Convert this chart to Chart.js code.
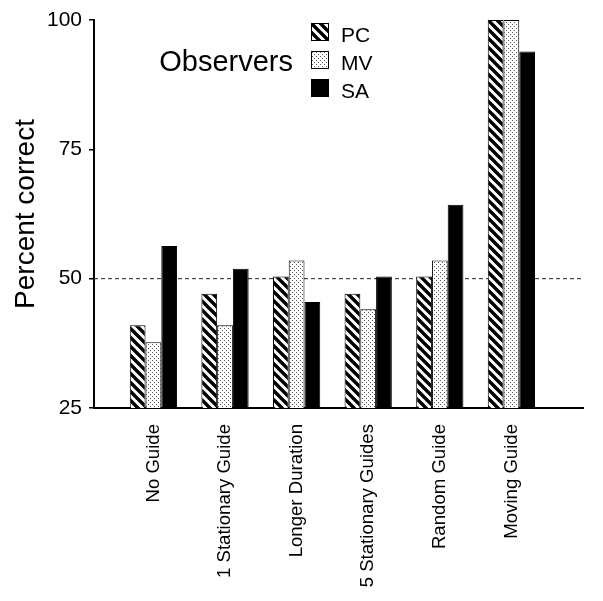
<!DOCTYPE html>
<html>
<head>
<meta charset="utf-8">
<script src="https://cdn.jsdelivr.net/npm/chart.js@4.4.1/dist/chart.umd.min.js"></script>
<style>
    body { margin: 0; background: #fff; }
    #caixa { width: 603px; height: 601px; }
</style>
</head>
<body>
<div id="caixa"><canvas id="grafico"></canvas></div>
<script>
const condicoes = ['No Guide', '1 Stationary Guide', 'Longer Duration', '5 Stationary Guides', 'Random Guide', 'Moving Guide'];
const observadores = ['PC', 'MV', 'SA'];
const valoresPC = [41.0, 47.1, 50.4, 47.1, 50.4, 100];
const valoresMV = [37.7, 41.0, 53.5, 44.1, 53.5, 100];
const valoresSA = [56.3, 51.9, 45.5, 50.4, 64.3, 93.9];
const passoY = 25;
const nivelAcaso = 50;

const fonte = "'Liberation Sans', Arial, Helvetica, sans-serif";
const xMin = 0.17;
const xMax = 7.0;

const canvas = document.getElementById('grafico');
const ctxPrincipal = canvas.getContext('2d');

function criarListras() {
    const t = 9;
    const c = document.createElement('canvas');
    c.width = t; c.height = t;
    const g = c.getContext('2d');
    g.fillStyle = 'white';
    g.fillRect(0, 0, t, t);
    g.strokeStyle = 'black';
    g.lineWidth = 3.4;
    g.beginPath();
    g.moveTo(-2, -2); g.lineTo(t + 2, t + 2);
    g.moveTo(-2, t - 2); g.lineTo(2, t + 2);
    g.moveTo(t - 2, -2); g.lineTo(t + 2, 2);
    g.stroke();
    return ctxPrincipal.createPattern(c, 'repeat');
}

function criarPontilhado() {
    const c = document.createElement('canvas');
    c.width = 4; c.height = 4;
    const g = c.getContext('2d');
    g.fillStyle = 'white';
    g.fillRect(0, 0, 4, 4);
    g.fillStyle = '#555';
    g.fillRect(0, 0, 1, 1);
    g.fillRect(2, 2, 1, 1);
    return ctxPrincipal.createPattern(c, 'repeat');
}

const preenchimentos = [criarListras(), criarPontilhado(), 'black'];
const series = [valoresPC, valoresMV, valoresSA];

const datasetsBarras = observadores.map(function (nome, i) {
    return {
        type: 'bar',
        label: nome,
        data: series[i].map((v, j) => ({ x: j + 1, y: v })),
        backgroundColor: preenchimentos[i],
        borderColor: 'black',
        borderWidth: 1,
        categoryPercentage: 0.66,
        barPercentage: 1.0,
        order: 0
    };
});

const linhaAcaso = {
    type: 'line',
    label: 'acaso',
    data: [{ x: xMin, y: nivelAcaso }, { x: xMax, y: nivelAcaso }],
    borderColor: '#222',
    borderWidth: 1,
    borderDash: [4, 3],
    pointRadius: 0,
    order: 1
};

// legenda desenhada dentro da area do grafico
const legendaObservadores = {
    id: 'legendaObservadores',
    afterDraw(chart) {
        const ctx = chart.ctx;
        const area = chart.chartArea;
        const x0 = area.left + 217;
        const y0 = area.top + 3;
        const passo = 28;
        const lado = 18;
        ctx.save();
        ctx.fillStyle = 'black';
        ctx.font = `29px ${fonte}`;
        ctx.textAlign = 'right';
        ctx.textBaseline = 'alphabetic';
        ctx.fillText('Observers', x0 - 18, y0 + 48);

        ctx.font = `21px ${fonte}`;
        ctx.textAlign = 'left';
        const barras = chart.data.datasets.filter(d => d.type === 'bar');
        for (let i = 0; i < barras.length; i++) {
            const y = y0 + i * passo;
            ctx.fillStyle = barras[i].backgroundColor;
            ctx.fillRect(x0, y, lado, lado);
            ctx.strokeStyle = 'black';
            ctx.lineWidth = 1;
            ctx.strokeRect(x0 + 0.5, y + 0.5, lado - 1, lado - 1);
            ctx.fillStyle = 'black';
            ctx.fillText(barras[i].label, x0 + 30, y + lado + 1);
        }
        ctx.restore();
    }
};

new Chart(canvas, {
    data: {
        datasets: [...datasetsBarras, linhaAcaso]
    },
    options: {
        responsive: true,
        maintainAspectRatio: false,
        animation: false,
        layout: {
            padding: { left: 0, right: 20, top: 20, bottom: 0 }
        },
        plugins: {
            legend: { display: false },
            tooltip: { enabled: false },
            title: { display: false }
        },
        scales: {
            x: {
                type: 'linear',
                offset: false,
                min: xMin,
                max: xMax,
                grid: { display: false },
                border: { display: true, color: 'black', width: 2 },
                afterBuildTicks: function (eixo) {
                    eixo.ticks = condicoes.map((c, i) => ({ value: i + 1 }));
                },
                afterFit: function (eixo) {
                    eixo.height = 193;
                },
                ticks: {
                    autoSkip: false,
                    maxRotation: 90,
                    minRotation: 90,
                    padding: 8,
                    color: 'black',
                    font: { size: 18.6, family: fonte },
                    callback: function (valor) {
                        return condicoes[valor - 1];
                    }
                }
            },
            y: {
                type: 'linear',
                min: 25,
                max: 100,
                afterFit: function (eixo) {
                    eixo.width = 94;
                },
                grid: {
                    display: true,
                    drawOnChartArea: false,
                    drawTicks: true,
                    tickLength: 5,
                    color: 'black',
                    lineWidth: 1.5
                },
                border: { display: true, color: 'black', width: 2 },
                title: {
                    display: true,
                    text: 'Percent correct',
                    color: 'black',
                    font: { size: 28, family: fonte },
                    padding: { top: 9, bottom: 0 }
                },
                ticks: {
                    stepSize: passoY,
                    color: 'black',
                    padding: 7,
                    font: { size: 21, family: fonte }
                }
            }
        }
    },
    plugins: [legendaObservadores]
});
</script>
</body>
</html>
